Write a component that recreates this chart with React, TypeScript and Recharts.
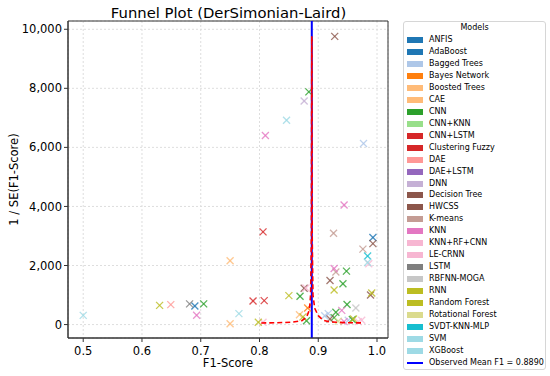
import {
  CartesianGrid,
  ReferenceArea,
  ReferenceLine,
  Scatter,
  ScatterChart,
  XAxis,
  YAxis,
} from "recharts";

const models = [
  "ANFIS", "AdaBoost", "Bagged Trees", "Bayes Network", "Boosted Trees", "CAE",
  "CNN", "CNN+KNN", "CNN+LSTM", "Clustering Fuzzy", "DAE", "DAE+LSTM", "DNN",
  "Decision Tree", "HWCSS", "K-means", "KNN", "KNN+RF+CNN", "LE-CRNN", "LSTM",
  "RBFNN-MOGA", "RNN", "Random Forest", "Rotational Forest", "SVDT-KNN-MLP",
  "SVM", "XGBoost",
];

const modelColors = [
  "#1f77b4", "#1f77b4", "#aec7e8", "#ff7f0e", "#ffbb78", "#ffbb78",
  "#2ca02c", "#98df8a", "#d62728", "#d62728", "#ff9896", "#9467bd", "#c5b0d5",
  "#8c564b", "#8c564b", "#c49c94", "#e377c2", "#f7b6d2", "#f7b6d2", "#7f7f7f",
  "#c7c7c7", "#bcbd22", "#bcbd22", "#dbdb8d", "#17becf",
  "#9edae5", "#9edae5",
];

// [model, F1-score, 1/SE]
const studies: [string, number, number][] = [
  ["ANFIS", 0.69, 630],
  ["AdaBoost", 0.993, 2950],
  ["Bagged Trees", 0.977, 6130],
  ["Bagged Trees", 0.917, 370],
  ["Bagged Trees", 0.911, 300],
  ["Bagged Trees", 0.951, 145],
  ["Bayes Network", 0.882, 560],
  ["Boosted Trees", 0.75, 2160],
  ["Boosted Trees", 0.868, 330],
  ["CAE", 0.75, 30],
  ["CNN", 0.705, 700],
  ["CNN", 0.884, 7880],
  ["CNN", 0.869, 960],
  ["CNN", 0.88, 130],
  ["CNN", 0.948, 1810],
  ["CNN", 0.942, 1380],
  ["CNN", 0.949, 680],
  ["CNN", 0.93, 415],
  ["CNN", 0.927, 236],
  ["CNN", 0.958, 170],
  ["CNN+LSTM", 0.806, 3140],
  ["CNN+LSTM", 0.789, 800],
  ["Clustering Fuzzy", 0.808, 810],
  ["DAE", 0.649, 675],
  ["DNN", 0.876, 7570],
  ["Decision Tree", 0.928, 9760],
  ["Decision Tree", 0.92, 1490],
  ["Decision Tree", 0.876, 1230],
  ["Decision Tree", 0.92, 190],
  ["HWCSS", 0.993, 2740],
  ["HWCSS", 0.989, 1000],
  ["K-means", 0.926, 3090],
  ["K-means", 0.976, 2555],
  ["K-means", 0.93, 1780],
  ["KNN", 0.693, 314],
  ["KNN", 0.81, 6400],
  ["KNN", 0.944, 4050],
  ["KNN", 0.927, 1900],
  ["KNN", 0.94, 480],
  ["KNN", 0.944, 100],
  ["KNN+RF+CNN", 0.879, 1240],
  ["KNN+RF+CNN", 0.986, 2060],
  ["KNN+RF+CNN", 0.968, 100],
  ["LE-CRNN", 0.806, 80],
  ["LE-CRNN", 0.974, 145],
  ["LSTM", 0.681, 700],
  ["RBFNN-MOGA", 0.964, 560],
  ["RNN", 0.63, 650],
  ["RNN", 0.85, 980],
  ["RNN", 0.874, 260],
  ["Random Forest", 0.927, 1170],
  ["Random Forest", 0.991, 1070],
  ["Random Forest", 0.96, 190],
  ["Random Forest", 0.798, 80],
  ["Rotational Forest", 0.934, 110],
  ["SVDT-KNN-MLP", 0.984, 2320],
  ["SVM", 0.5, 310],
  ["SVM", 0.765, 370],
  ["XGBoost", 0.846, 6920],
  ["XGBoost", 0.984, 2100],
];

// dashed funnel bounds
const funnelLeft = [
  { f1: 0.803, precision: 55 },
  { f1: 0.83, precision: 62 },
  { f1: 0.855, precision: 80 },
  { f1: 0.872, precision: 130 },
  { f1: 0.88, precision: 250 },
  { f1: 0.885, precision: 500 },
  { f1: 0.887, precision: 1000 },
  { f1: 0.8883, precision: 3000 },
  { f1: 0.889, precision: 9760 },
];
const funnelRight = [
  { f1: 0.889, precision: 9760 },
  { f1: 0.8897, precision: 3000 },
  { f1: 0.891, precision: 1000 },
  { f1: 0.894, precision: 550 },
  { f1: 0.9, precision: 300 },
  { f1: 0.908, precision: 150 },
  { f1: 0.92, precision: 90 },
  { f1: 0.945, precision: 65 },
  { f1: 0.975, precision: 55 },
];

const pooledF1 = 0.889;
const xTicks = [0.5, 0.6, 0.7, 0.8, 0.9, 1.0];
const yTicks = [0, 2000, 4000, 6000, 8000, 10000];
const xDomain = [0.4741, 1.0187];
const yDomain = [-455, 10280];

const font = "'DejaVu Sans', sans-serif";

const crossShape = (color: string) => (props: any) => {
  const { cx, cy } = props;
  if (cx == null || cy == null) return <g />;
  const r = 3.5;
  return (
    <g stroke={color} strokeWidth={1.3} strokeOpacity={0.8}>
      <line x1={cx - r} y1={cy - r} x2={cx + r} y2={cy + r} />
      <line x1={cx - r} y1={cy + r} x2={cx + r} y2={cy - r} />
    </g>
  );
};

const noShape = () => <g />;

export default function App() {
  const tickStyle = { fill: "#000", fontSize: 11.5, fontFamily: font };
  const rowTop = (i: number) => 40 + i * 11.96 - 6;
  const legendFont = 8;

  return (
    <div
      style={{
        position: "absolute",
        left: 0,
        top: 0,
        width: 550,
        height: 376,
        background: "#fff",
        fontFamily: font,
        color: "#000",
      }}
    >
      <div
        style={{
          position: "absolute",
          left: 0,
          width: 457,
          top: 4.7,
          textAlign: "center",
          fontSize: 14.8,
          lineHeight: "15px",
          whiteSpace: "nowrap",
        }}
      >
        Funnel Plot (DerSimonian-Laird)
      </div>
      <ScatterChart
        width={550}
        height={376}
        margin={{ top: 21, right: 162, bottom: 8, left: 8 }}
      >
        <CartesianGrid stroke="#dedede" strokeDasharray="2 2" />
        <XAxis
          type="number"
          dataKey="f1"
          domain={xDomain}
          ticks={xTicks}
          allowDataOverflow
          tickFormatter={(v: number) => v.toFixed(1)}
          height={30}
          tick={tickStyle}
          tickSize={4}
          tickMargin={5}
          axisLine={{ stroke: "#333" }}
          tickLine={{ stroke: "#333" }}
          label={{
            value: "F1-Score",
            position: "insideBottom",
            offset: 1,
            style: { fill: "#000", fontSize: 11.5, fontFamily: font },
          }}
        />
        <YAxis
          type="number"
          dataKey="precision"
          domain={yDomain}
          ticks={yTicks}
          allowDataOverflow
          tickFormatter={(v: number) => v.toLocaleString("en-US")}
          width={60}
          tick={tickStyle}
          tickSize={4}
          axisLine={{ stroke: "#333" }}
          tickLine={{ stroke: "#333" }}
          label={{
            value: "1 / SE(F1-Score)",
            angle: -90,
            position: "insideLeft",
            offset: 6,
            style: { textAnchor: "middle", fill: "#000", fontSize: 11.5, fontFamily: font },
          }}
        />
        <ReferenceArea
          x1={xDomain[0]}
          x2={xDomain[1]}
          y1={yDomain[0]}
          y2={yDomain[1]}
          fill="none"
          stroke="#333"
          strokeWidth={1}
        />
        <ReferenceLine x={pooledF1} stroke="#0000ff" strokeWidth={2} />
        {models.map((m, i) => {
          const pts = studies
            .filter((s) => s[0] === m)
            .map((s) => ({ f1: s[1], precision: s[2] }));
          if (!pts.length) return null;
          return (
            <Scatter
              key={m}
              name={m}
              data={pts}
              shape={crossShape(modelColors[i])}
              isAnimationActive={false}
            />
          );
        })}
        <Scatter
          data={funnelLeft}
          line={{ stroke: "#ff0000", strokeWidth: 1.6, strokeDasharray: "5 3" }}
          lineType="joint"
          shape={noShape}
          isAnimationActive={false}
        />
        <Scatter
          data={funnelRight}
          line={{ stroke: "#ff0000", strokeWidth: 1.6, strokeDasharray: "5 3" }}
          lineType="joint"
          shape={noShape}
          isAnimationActive={false}
        />
      </ScatterChart>

      <div
        style={{
          position: "absolute",
          left: 403,
          top: 21,
          width: 141,
          height: 347,
          border: "1px solid #d6d6d6",
          borderRadius: 3,
          background: "#fff",
        }}
      />
      <div
        style={{
          position: "absolute",
          left: 403,
          width: 143,
          top: 22,
          textAlign: "center",
          fontSize: legendFont,
          lineHeight: "12px",
        }}
      >
        Models
      </div>
      {models.map((m, i) => (
        <div key={m}>
          <div
            style={{
              position: "absolute",
              left: 407,
              top: rowTop(i) + 3,
              width: 16,
              height: 6,
              background: modelColors[i],
            }}
          />
          <div
            style={{
              position: "absolute",
              left: 429,
              top: rowTop(i),
              fontSize: legendFont,
              lineHeight: "12px",
              whiteSpace: "nowrap",
            }}
          >
            {m}
          </div>
        </div>
      ))}
      <div
        style={{
          position: "absolute",
          left: 407,
          top: rowTop(models.length) + 5,
          width: 16,
          height: 2,
          background: "#0000ff",
        }}
      />
      <div
        style={{
          position: "absolute",
          left: 429,
          top: rowTop(models.length),
          fontSize: legendFont,
          lineHeight: "12px",
          whiteSpace: "nowrap",
        }}
      >
        {`Observed Mean F1 = ${pooledF1.toFixed(4)}`}
      </div>
    </div>
  );
}
